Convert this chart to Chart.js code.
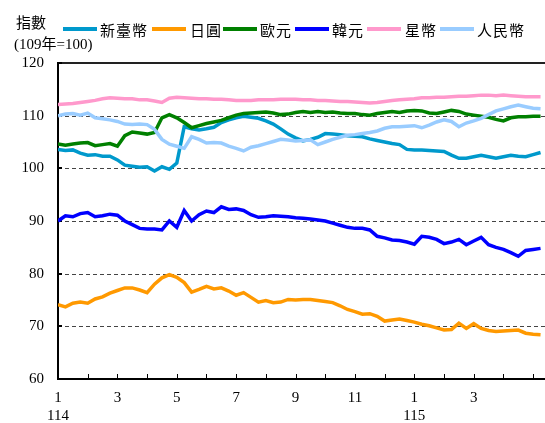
<!DOCTYPE html>
<html>
<head>
<meta charset="utf-8">
<script src="https://cdn.jsdelivr.net/npm/chart.js@4"></script>
<style>
html, body { margin: 0; padding: 0; background: #fff; }
</style>
</head>
<body>
<canvas id="myChart" width="545" height="423"></canvas>
<script>
// x position in months counted from 114/1 (12 = 115/1), a point every quarter month
const months = [0,0.25,0.5,0.75,1,1.25,1.5,1.75,2,2.25,2.5,2.75,3,3.25,3.5,3.75,4,4.25,4.5,4.75,5,5.25,5.5,5.75,6,6.25,6.5,6.75,7,7.25,7.5,7.75,8,8.25,8.5,8.75,9,9.25,9.5,9.75,10,10.25,10.5,10.75,11,11.25,11.5,11.75,12,12.25,12.5,12.75,13,13.25,13.5,13.75,14,14.25,14.5,14.75,15,15.25,15.5,15.75,16,16.25];

const seriesNames = ['新臺幣', '日圓', '歐元', '韓元', '星幣', '人民幣'];
const seriesColors = ['#0099CC', '#FF9900', '#008000', '#0000FF', '#FF99CC', '#99CCFF'];

const twd = [103.6,103.4,103.5,102.9,102.5,102.6,102.3,102.3,101.6,100.6,100.4,100.2,100.3,99.5,100.3,99.8,101.0,107.9,107.5,107.3,107.5,107.8,108.7,109.2,109.6,109.9,109.7,109.5,109.0,108.4,107.5,106.5,105.8,105.2,105.5,105.9,106.6,106.5,106.4,106.2,106.1,106.0,105.6,105.3,105.0,104.7,104.5,103.6,103.5,103.5,103.4,103.3,103.2,102.5,101.9,101.9,102.2,102.5,102.2,101.9,102.2,102.5,102.3,102.2,102.6,103.0];
const jpy = [74.1,73.7,74.4,74.6,74.4,75.2,75.6,76.3,76.8,77.3,77.3,76.9,76.4,78.0,79.2,79.8,79.3,78.3,76.5,77.0,77.6,77.1,77.3,76.7,75.9,76.4,75.5,74.6,74.9,74.5,74.6,75.1,75.0,75.1,75.1,74.9,74.7,74.5,73.9,73.2,72.8,72.3,72.4,71.9,71.0,71.2,71.4,71.1,70.8,70.4,70.1,69.7,69.3,69.4,70.6,69.6,70.5,69.6,69.2,69.0,69.1,69.2,69.3,68.7,68.5,68.4];
const eur = [104.6,104.4,104.6,104.8,104.9,104.3,104.5,104.7,104.2,106.2,106.9,106.7,106.5,106.8,109.6,110.2,109.6,108.7,107.7,108.1,108.5,108.8,109.1,109.6,110.1,110.4,110.5,110.6,110.7,110.5,110.2,110.3,110.6,110.8,110.6,110.8,110.6,110.7,110.5,110.4,110.4,110.2,110.1,110.4,110.6,110.8,110.6,110.9,111.0,110.9,110.5,110.4,110.7,111.0,110.8,110.3,110.1,109.9,109.7,109.3,109.0,109.6,109.8,109.8,109.9,109.9];
const krw = [90.0,91.0,90.8,91.4,91.6,90.8,91.0,91.3,91.1,90.0,89.3,88.6,88.5,88.5,88.3,90.0,88.8,92.0,90.0,91.2,91.9,91.6,92.7,92.2,92.3,92.0,91.2,90.7,90.8,91.0,90.9,90.8,90.6,90.5,90.4,90.2,90.0,89.6,89.2,88.8,88.6,88.6,88.3,87.1,86.8,86.4,86.3,86.0,85.6,87.1,86.9,86.5,85.7,86.0,86.5,85.5,86.2,86.9,85.5,85.0,84.6,84.0,83.3,84.4,84.6,84.8];
const sgd = [112.1,112.2,112.3,112.5,112.7,112.9,113.2,113.4,113.3,113.2,113.2,113.0,113.0,112.8,112.5,113.3,113.5,113.4,113.3,113.2,113.2,113.1,113.1,113.0,112.9,112.9,112.9,113.0,113.0,113.0,113.1,113.1,113.1,113.0,113.0,112.9,112.9,112.8,112.7,112.7,112.6,112.5,112.4,112.5,112.7,112.9,113.0,113.1,113.2,113.4,113.4,113.5,113.5,113.6,113.7,113.7,113.8,113.9,113.9,113.8,113.9,113.8,113.7,113.6,113.6,113.6];
const cny = [110.0,110.3,110.4,110.1,110.5,109.6,109.4,109.2,108.9,108.4,108.3,108.4,108.3,107.4,105.5,104.6,104.2,103.8,106.0,105.5,104.8,104.9,104.8,104.2,103.8,103.3,104.0,104.3,104.7,105.1,105.5,105.4,105.2,105.3,105.4,104.5,105.0,105.5,105.9,106.3,106.4,106.6,106.8,107.1,107.6,107.9,107.9,108.0,108.1,107.7,108.2,108.8,109.2,108.9,107.9,108.6,109.0,109.5,110.2,110.9,111.3,111.7,112.0,111.7,111.4,111.3];

const yTicks = [60, 70, 80, 90, 100, 110, 120];
const yearLabels = { 0: '114', 12: '115' };
const lastLabelled = 15;   // month 3 of 115 is the last one written under the axis

const allSeries = [twd, jpy, eur, krw, sgd, cny];

const serif = '"Liberation Serif", "Times New Roman", "Noto Sans CJK TC", serif';
const cjk = '"Noto Sans CJK TC", "Liberation Serif", sans-serif';

// grid lines, inner tick marks, title and legend
const decor = {
    id: 'decor',
    beforeDatasetsDraw(chart) {
        const { ctx, chartArea: a, scales: { x, y } } = chart;
        ctx.save();
        ctx.strokeStyle = '#444';
        ctx.lineWidth = 1;
        ctx.setLineDash([4, 3]);
        yTicks.forEach(v => {
            if (v <= 60 || v >= 120) return;
            const py = Math.round(y.getPixelForValue(v)) + 0.5;
            ctx.beginPath();
            ctx.moveTo(a.left, py);
            ctx.lineTo(a.right, py);
            ctx.stroke();
        });
        ctx.setLineDash([]);
        // top line
        ctx.strokeStyle = '#222';
        ctx.lineWidth = 2;
        ctx.beginPath();
        ctx.moveTo(a.left, a.top);
        ctx.lineTo(a.right, a.top);
        ctx.stroke();
        // inner ticks
        ctx.lineWidth = 1;
        ctx.strokeStyle = '#000';
        for (let m = 0; m <= x.max; m++) {
            const px = Math.round(x.getPixelForValue(m)) + 0.5;
            ctx.beginPath();
            ctx.moveTo(px, a.bottom);
            ctx.lineTo(px, a.bottom - 5);
            ctx.stroke();
        }
        ctx.lineWidth = 2;
        yTicks.forEach(v => {
            const py = Math.round(y.getPixelForValue(v));
            ctx.beginPath();
            ctx.moveTo(a.left, py);
            ctx.lineTo(a.left + 4, py);
            ctx.stroke();
        });
        ctx.restore();
    },
    afterDraw(chart) {
        const ctx = chart.ctx;
        ctx.save();
        ctx.fillStyle = '#000';
        ctx.textBaseline = 'middle';
        ctx.font = '15px ' + cjk;
        ctx.fillText('指數', 16, 22);
        ctx.font = '15px ' + serif;
        ctx.fillText('(109年=100)', 14, 45);

        const lineStarts = [63, 152, 223, 295, 367, 440];
        const textStarts = [100, 190, 260, 332, 405, 477];
        chart.data.datasets.forEach((ds, i) => {
            ctx.strokeStyle = ds.borderColor;
            ctx.lineWidth = 4;
            ctx.beginPath();
            ctx.moveTo(lineStarts[i], 29);
            ctx.lineTo(lineStarts[i] + 34, 29);
            ctx.stroke();
            ctx.fillStyle = '#000';
            ctx.font = '15px ' + cjk;
            let tx = textStarts[i];
            for (const ch of ds.label) {
                ctx.fillText(ch, tx, 30);
                tx += 16;
            }
        });
        ctx.restore();
    }
};

const pieChart = document.getElementById('myChart').getContext('2d');

new Chart(pieChart, {
    type: 'line',
    data: {
        datasets: seriesNames.map((name, i) => ({
            label: name,
            data: months.map((m, j) => ({ x: m, y: allSeries[i][j] })),
            borderColor: seriesColors[i],
            backgroundColor: seriesColors[i],
            borderWidth: 3.5,
            pointRadius: 0,
            tension: 0,
            order: 5 - i
        }))
    },
    options: {
        responsive: false,
        animation: false,
        devicePixelRatio: 1,
        layout: { padding: { top: 63, left: 0, right: 0, bottom: 0 } },
        plugins: { legend: { display: false }, tooltip: { enabled: false } },
        scales: {
            x: {
                type: 'linear',
                min: 0,
                max: 16.4,
                afterFit: s => { s.height = 44; s.paddingRight = 0; s.paddingLeft = 0; },
                grid: { display: false, drawTicks: false },
                border: { display: true, color: '#000', width: 2 },
                ticks: {
                    stepSize: 1,
                    includeBounds: false,
                    autoSkip: false,
                    maxRotation: 0,
                    padding: 10,
                    color: '#000',
                    font: { family: serif, size: 15 },
                    callback: v => {
                        if (!Number.isInteger(v) || v > lastLabelled) return '';
                        const mon = v % 12 + 1;
                        if (mon % 2 === 0) return '';
                        return yearLabels[v] ? [String(mon), yearLabels[v]] : String(mon);
                    }
                }
            },
            y: {
                min: 60,
                max: 120,
                afterFit: s => { s.width = 58; },
                grid: { display: false, drawTicks: false },
                border: { display: true, color: '#000', width: 2 },
                ticks: {
                    stepSize: 10,
                    padding: 14,
                    color: '#000',
                    font: { family: serif, size: 15 }
                }
            }
        }
    },
    plugins: [decor]
});
</script>
</body>
</html>
